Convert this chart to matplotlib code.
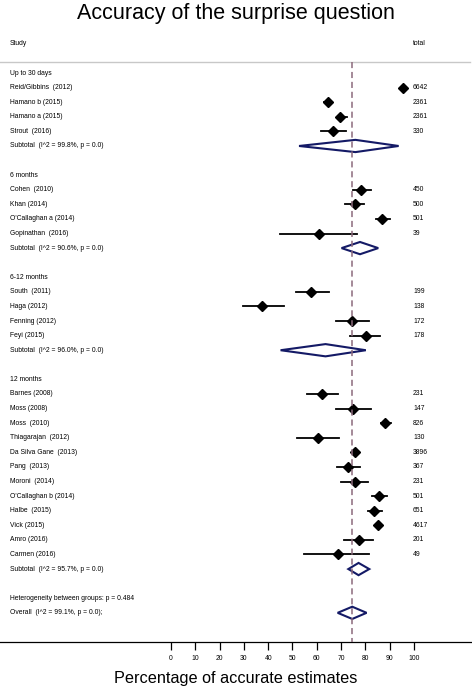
import matplotlib
matplotlib.use("Agg")
import matplotlib.pyplot as plt

plt.rcParams['font.family'] = ['Liberation Sans', 'DejaVu Sans']

# groups, studies, estimates (% accurate), CI and totals
groups = ["Up to 30 days", "6 months", "6-12 months", "12 months"]

studies_30d = ["Reid/Gibbins  (2012)", "Hamano b (2015)", "Hamano a (2015)", "Strout  (2016)"]
est_30d = [95.6, 64.5, 69.5, 66.8]
lo_30d = [95.0, 63.1, 68.4, 61.6]
hi_30d = [96.2, 66.4, 72.3, 72.0]
n_30d = [6642, 2361, 2361, 330]

studies_6m = ["Cohen  (2010)", "Khan (2014)", "O'Callaghan a (2014)", "Gopinathan  (2016)"]
est_6m = [78.2, 75.6, 86.8, 61.0]
lo_6m = [74.8, 71.6, 84.2, 44.9]
hi_6m = [82.3, 79.4, 90.1, 76.7]
n_6m = [450, 500, 501, 39]

studies_612m = ["South  (2011)", "Haga (2012)", "Fenning (2012)", "Feyi (2015)"]
est_612m = [57.8, 37.6, 74.6, 80.1]
lo_612m = [51.3, 29.8, 67.9, 73.8]
hi_612m = [65.2, 46.4, 81.3, 85.9]
n_612m = [199, 138, 172, 178]

studies_12m = ["Barnes (2008)", "Moss (2008)", "Moss  (2010)", "Thiagarajan  (2012)",
               "Da Silva Gane  (2013)", "Pang  (2013)", "Moroni  (2014)",
               "O'Callaghan b (2014)", "Halbe  (2015)", "Vick (2015)", "Amro (2016)",
               "Carmen (2016)"]
est_12m = [62.1, 75.0, 88.2, 60.6, 75.7, 72.7, 75.7, 85.6, 83.5, 85.0, 77.2, 68.9]
lo_12m = [55.8, 67.9, 86.4, 52.0, 74.8, 68.2, 69.8, 82.6, 81.1, 84.0, 71.2, 54.7]
hi_12m = [68.6, 82.2, 90.4, 69.3, 76.6, 77.6, 81.2, 88.8, 86.7, 86.1, 83.3, 81.6]
n_12m = [231, 147, 826, 130, 3896, 367, 231, 501, 651, 4617, 201, 49]

sub_labels = ["Subtotal  (I^2 = 99.8%, p = 0.0)", "Subtotal  (I^2 = 90.6%, p = 0.0)",
              "Subtotal  (I^2 = 96.0%, p = 0.0)", "Subtotal  (I^2 = 95.7%, p = 0.0)"]
sub_est = [75.9, 77.8, 63.6, 77.2]
sub_lo = [52.7, 70.2, 45.1, 73.0]
sub_hi = [93.7, 85.3, 80.2, 81.6]

overall_est, overall_lo, overall_hi = 74.6, 68.6, 80.5
het_label = "Heterogeneity between groups: p = 0.484"
overall_label = "Overall  (I^2 = 99.1%, p = 0.0);"

all_studies = [studies_30d, studies_6m, studies_612m, studies_12m]
all_est = [est_30d, est_6m, est_612m, est_12m]
all_lo = [lo_30d, lo_6m, lo_612m, lo_12m]
all_hi = [hi_30d, hi_6m, hi_612m, hi_12m]
all_n = [n_30d, n_6m, n_612m, n_12m]

FS = 4.9
label_x = -66.3
total_x = 99.6
navy = "#141a66"
dash_col = "#8c6a7c"
half_h = 0.42

fig = plt.figure(figsize=(4.72, 6.89), dpi=100)
ax = fig.add_axes([0, 47 / 689, 1, 612 / 689])
ax.set_xlim(-70.4, 123.9)
ax.set_ylim(39, -2.95)


def diamond(c, lo, hi, k):
    ax.fill([lo, c, hi, c], [k, k - half_h, k, k + half_h],
            facecolor="none", edgecolor=navy, lw=1.5, zorder=2)


ax.text(label_x, -2, "Study", fontsize=FS, va="center")
ax.text(total_x, -2, "total", fontsize=FS, va="center")
ax.plot([-72, 123], [-0.75, -0.75], color="#c8c8c8", lw=1.0, clip_on=False)

k = 0
for g in range(len(groups)):
    ax.text(label_x, k, groups[g], fontsize=FS, va="center")
    k += 1
    for name, e, lo, hi, n in zip(all_studies[g], all_est[g], all_lo[g], all_hi[g], all_n[g]):
        ax.text(label_x, k, name, fontsize=FS, va="center")
        ax.text(total_x, k, str(n), fontsize=FS, va="center")
        ax.plot([lo, hi], [k, k], color="black", lw=1.3, zorder=3)
        ax.plot(e, k, marker="D", color="black", ms=4.8, zorder=4)
        k += 1
    ax.text(label_x, k, sub_labels[g], fontsize=FS, va="center")
    diamond(sub_est[g], sub_lo[g], sub_hi[g], k)
    k += 2

ax.text(label_x, k, het_label, fontsize=FS, va="center")
k += 1
ax.text(label_x, k, overall_label, fontsize=FS, va="center")
diamond(overall_est, overall_lo, overall_hi, k)

ax.plot([overall_est, overall_est], [-0.75, 39], color=dash_col, lw=1.1,
        ls=(0, (4, 2.5)), zorder=5)

for s in ["top", "left", "right"]:
    ax.spines[s].set_visible(False)
ax.spines["bottom"].set_linewidth(0.9)
ax.set_yticks([])
ax.set_xticks(range(0, 101, 10))
ax.tick_params(axis="x", direction="out", length=6, width=0.9, labelsize=FS, pad=3)

fig.text(0.5, 1 - 14 / 689, "Accuracy of the surprise question", ha="center", va="center",
         fontsize=15.5)
fig.text(0.5, 1 - 678 / 689, "Percentage of accurate estimates", ha="center", va="center",
         fontsize=11.7)

fig.savefig("out.png", dpi=100, facecolor="white")
